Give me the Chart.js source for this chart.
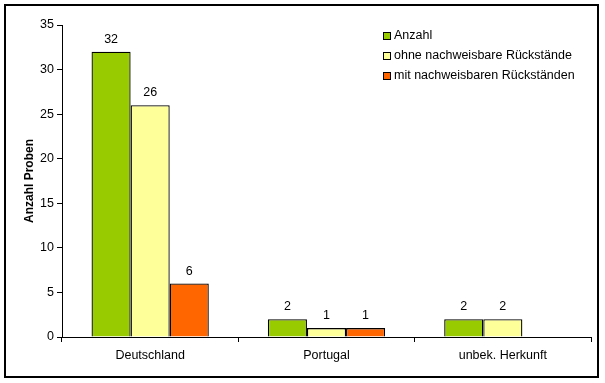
<!DOCTYPE html>
<html>
<head>
<meta charset="utf-8">
<script src="https://cdn.jsdelivr.net/npm/chart.js@4.4.1/dist/chart.umd.min.js"></script>
<style>
  html, body { margin: 0; padding: 0; background: #fff; }
  #wrap { width: 605px; height: 383px; position: relative; }
</style>
</head>
<body>
<div id="wrap"><canvas id="myChart" width="605" height="383"></canvas></div>
<script>
const categories = ["Deutschland", "Portugal", "unbek. Herkunft"];
const anzahl = [32, 2, 2];
const ohneRueckstaende = [26, 1, 2];
const mitRueckstaenden = [6, 1, null];
const yTicks = [0, 5, 10, 15, 20, 25, 30, 35];

const FONT = "'Liberation Sans', Arial, sans-serif";
const FS = 12.5;

// value labels above bars
const valueLabels = {
  id: "valueLabels",
  afterDatasetsDraw(chart) {
    const c = chart.ctx;
    c.save();
    c.font = FS + "px " + FONT;
    c.fillStyle = "#000";
    c.textAlign = "center";
    c.textBaseline = "bottom";
    chart.data.datasets.forEach((ds, i) => {
      chart.getDatasetMeta(i).data.forEach((bar, j) => {
        if (ds.data[j] == null) return;
        c.fillText(ds.data[j], bar.x, bar.y - 6);
      });
    });
    c.restore();
  }
};

// legend inside plot, plus outer frame
const boxLegend = {
  id: "boxLegend",
  afterDraw(chart) {
    const c = chart.ctx;
    c.save();
    c.font = FS + "px " + FONT;
    c.textBaseline = "middle";
    chart.data.datasets.forEach((ds, i) => {
      const y = 36 + i * 20;
      c.fillStyle = ds.backgroundColor;
      c.fillRect(383.5, y - 3.5, 7, 7);
      c.strokeStyle = "#000";
      c.lineWidth = 1;
      c.strokeRect(383.5, y - 3.5, 7, 7);
      c.fillStyle = "#000";
      c.fillText(ds.label, 394, y);
    });
    c.strokeStyle = "#000";
    c.lineWidth = 2;
    c.strokeRect(5, 5, 593, 372);
    c.restore();
  }
};

new Chart(document.getElementById("myChart"), {
  type: "bar",
  data: {
    labels: categories,
    datasets: [
      { label: "Anzahl", data: anzahl, backgroundColor: "#99CC00" },
      { label: "ohne nachweisbare Rückstände", data: ohneRueckstaende, backgroundColor: "#FFFF99" },
      { label: "mit nachweisbaren Rückständen", data: mitRueckstaenden, backgroundColor: "#FF6600" }
    ].map(d => Object.assign(d, { borderColor: "#000", borderWidth: 1.3, borderSkipped: "bottom" }))
  },
  options: {
    responsive: false,
    animation: false,
    layout: { padding: { top: 25, right: 14, left: 0, bottom: 0 } },
    datasets: { bar: { categoryPercentage: 0.665, barPercentage: 1 } },
    plugins: { legend: { display: false }, tooltip: { enabled: false } },
    scales: {
      x: {
        grid: { drawOnChartArea: false, color: "#000", tickLength: 5, offset: true },
        border: { color: "#000", width: 1 },
        ticks: { color: "#000", font: { family: FONT, size: FS }, padding: 6 },
        afterFit(s) { s.height = 46; }
      },
      y: {
        min: 0, max: 35,
        afterBuildTicks(s) { s.ticks = yTicks.map(v => ({ value: v })); },
        grid: { drawOnChartArea: false, color: "#000", tickLength: 5 },
        border: { color: "#000", width: 1 },
        ticks: { color: "#000", font: { family: FONT, size: FS }, padding: 3 },
        title: {
          display: true, text: "Anzahl Proben", color: "#000",
          font: { family: FONT, size: 12, weight: "bold" },
          padding: { top: 22, bottom: 0 }
        },
        afterFit(s) { s.width = 62; }
      }
    }
  },
  plugins: [valueLabels, boxLegend]
});
</script>
</body>
</html>
